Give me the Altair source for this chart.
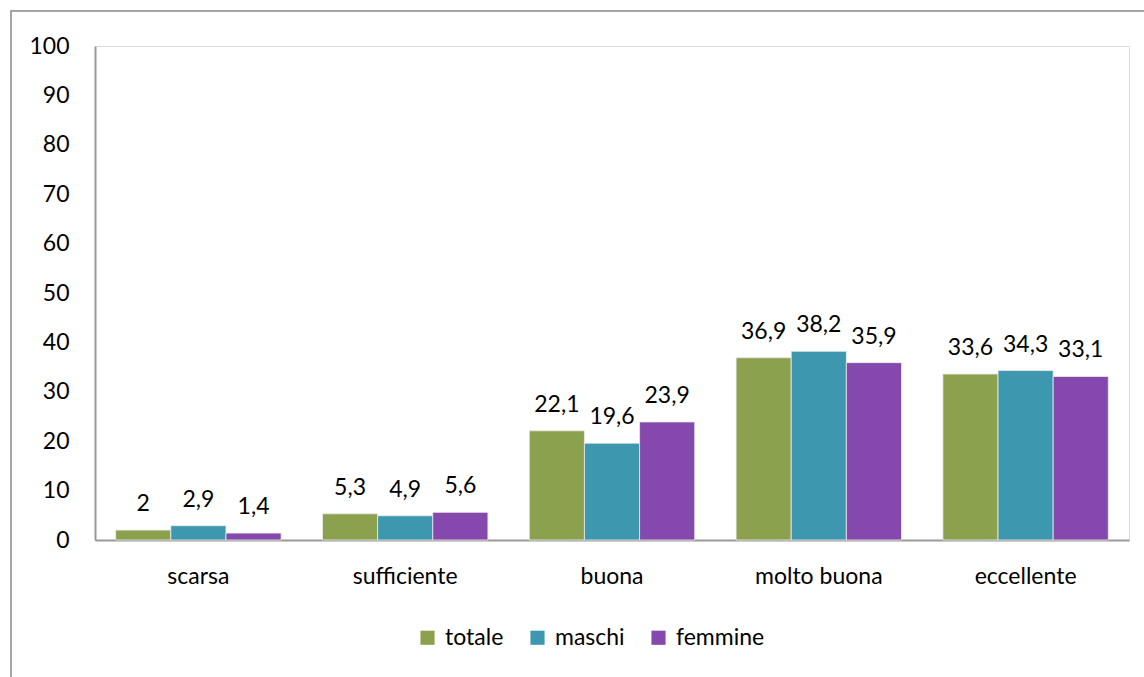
import altair as alt
import pandas as pd

# Survey categories and series
categorie = ["scarsa", "sufficiente", "buona", "molto buona", "eccellente"]
serie = ["totale", "maschi", "femmine"]
totale = [2.0, 5.3, 22.1, 36.9, 33.6]
maschi = [2.9, 4.9, 19.6, 38.2, 34.3]
femmine = [1.4, 5.6, 23.9, 35.9, 33.1]
colori = ["#8BA14D", "#3D97AE", "#8549AD"]
tick_y = [0, 10, 20, 30, 40, 50, 60, 70, 80, 90, 100]

rows = []
for nome, valori in zip(serie, [totale, maschi, femmine]):
    for cat, v in zip(categorie, valori):
        rows.append({"categoria": cat, "serie": nome, "valore": v})
df = pd.DataFrame(rows)

FONT = "Lato"
FS = 23
W, H = 1034, 494

base = alt.Chart(df).encode(
    x=alt.X("categoria:N", sort=categorie, title=None,
            scale=alt.Scale(paddingInner=0.2, paddingOuter=0.1),
            axis=alt.Axis(labelAngle=0, labelFontSize=FS, labelFont=FONT,
                          labelColor="black", labelPadding=25, ticks=False,
                          domainColor="#999999", domainWidth=2)),
    xOffset=alt.XOffset("serie:N", sort=serie, scale=alt.Scale(paddingInner=0, paddingOuter=0)),
)

bars = base.mark_bar(stroke="#eeeeee", strokeWidth=0.8).encode(
    y=alt.Y("valore:Q", title=None,
            scale=alt.Scale(domain=[0, 100], nice=False),
            axis=alt.Axis(values=tick_y, labelFontSize=FS, labelFont=FONT,
                          labelColor="black", labelPadding=26, ticks=False,
                          grid=False, domainColor="#999999", domainWidth=2)),
    color=alt.Color("serie:N", sort=serie,
                    scale=alt.Scale(domain=serie, range=colori),
                    legend=alt.Legend(title=None, orient="none", direction="horizontal",
                                      legendX=321, legendY=580,
                                      symbolType="square", symbolSize=200,
                                      symbolStrokeWidth=0,
                                      labelFontSize=FS, labelFont=FONT,
                                      labelColor="black", columnPadding=22,
                                      labelOffset=6)),
)

labels = base.mark_text(fontSize=FS, font=FONT, color="black", baseline="bottom", dy=-14).encode(
    y=alt.Y("valore:Q"),
    text=alt.Text("etichetta:N"),
).transform_calculate(
    etichetta="replace(toString(datum.valore), '.', ',')"
)

frame = alt.Chart(pd.DataFrame({"k": [0]})).mark_rect(
    fill=None, stroke="#a6a6a6", strokeWidth=2
).encode(
    x=alt.value(-84), x2=alt.value(1200), y=alt.value(-35), y2=alt.value(800)
)

chart = alt.layer(frame, bars, labels).properties(
    width=W, height=H,
    autosize=alt.AutoSizeParams(type="none"),
    padding={"left": 95, "top": 46, "right": 15, "bottom": 137},
).configure_view(stroke=None).configure(background="white")

chart.save("out.html", embed_options={"renderer": "svg", "actions": False})
